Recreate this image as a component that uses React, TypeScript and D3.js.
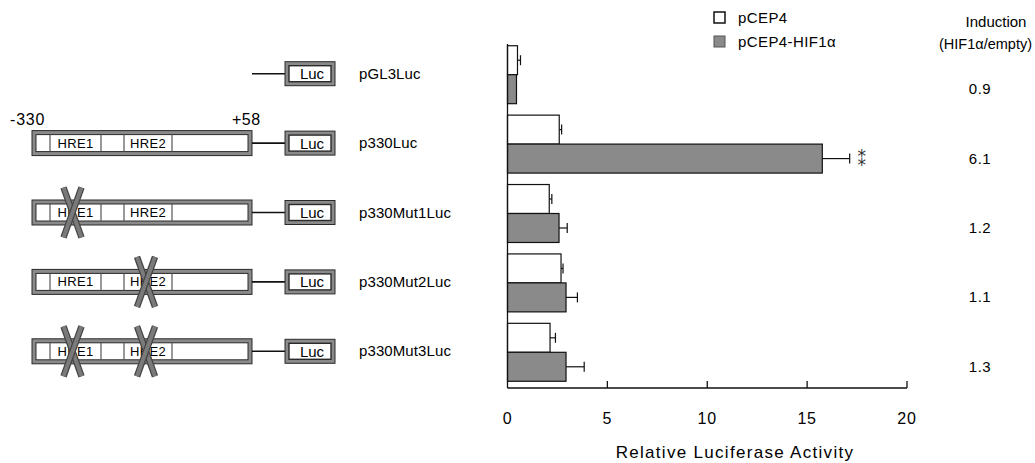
import React from "react";
import * as d3 from "d3";

const constructs = ["pGL3Luc", "p330Luc", "p330Mut1Luc", "p330Mut2Luc", "p330Mut3Luc"];
const pcep4 = [0.5, 2.59, 2.09, 2.68, 2.13];
const pcep4Err = [0.15, 0.12, 0.13, 0.1, 0.27];
const hif = [0.45, 15.76, 2.58, 2.93, 2.93];
const hifErr = [0, 1.37, 0.41, 0.57, 0.91];
const induction = ["0.9", "6.1", "1.2", "1.1", "1.3"];
const hasPromoter = [false, true, true, true, true];
const mutHRE1 = [false, false, true, false, true];
const mutHRE2 = [false, false, false, true, true];
const xTicks = [0, 5, 10, 15, 20];
const seriesKeys = ["pCEP4", "pCEP4-HIF1α"];
const significant = [false, true, false, false, false];

const FONT = "'Liberation Sans', Arial, Helvetica, sans-serif";
const GRAY = "#8a8a8a";
const DARK = "#2a2a2a";

export default function App() {
  const W = 1035, H = 463;
  const x = d3.scaleLinear().domain([0, 20]).range([507.5, 907]);
  const y = d3.scaleBand<string>().domain(constructs).range([40, 387]).paddingInner(0.165).paddingOuter(0.0825);
  const yInner = d3.scaleBand<string>().domain(seriesKeys).range([0, y.bandwidth()]);
  const bh = yInner.bandwidth();
  const axisY = 388;

  const Cross = ({ cx, cy }: { cx: number; cy: number }) => (
    <g>
      {[[-9, -25, 9, 25], [9, -25, -9, 25]].map((p, i) => (
        <g key={i}>
          <line x1={cx + p[0]} y1={cy + p[1]} x2={cx + p[2]} y2={cy + p[3]} stroke="#444" strokeWidth={6.5} />
          <line x1={cx + p[0]} y1={cy + p[1]} x2={cx + p[2]} y2={cy + p[3]} stroke="#7a7a7a" strokeWidth={4} />
        </g>
      ))}
    </g>
  );

  const Luc = ({ cy }: { cy: number }) => (
    <g>
      <rect x={285} y={cy - 12} width={50} height={24} fill={GRAY} stroke={DARK} strokeWidth={1} />
      <rect x={289} y={cy - 8} width={42} height={16} fill="#fff" stroke={DARK} strokeWidth={1.4} />
      <text x={312} y={cy + 5.5} textAnchor="middle" fontSize={15} fontFamily={FONT}>Luc</text>
    </g>
  );

  return (
    <svg width={W} height={H} style={{ display: "block", position: "absolute", left: 0, top: 0, background: "#fff" }}>
      {/* diagrams */}
      {constructs.map((c, i) => {
        const cy = (y(c) as number) + y.bandwidth() / 2 - 1;
        return (
          <g key={c}>
            {hasPromoter[i] && (
              <g>
                <rect x={32} y={cy - 12.5} width={220} height={25} fill={GRAY} stroke={DARK} strokeWidth={1} />
                <rect x={36} y={cy - 8.5} width={212} height={17} fill="#fff" stroke={DARK} strokeWidth={1} />
                {[50, 101, 124, 172].map((dx) => (
                  <line key={dx} x1={dx} x2={dx} y1={cy - 8.5} y2={cy + 8.5} stroke="#555" strokeWidth={1.2} />
                ))}
                <text x={75.5} y={cy + 4.5} textAnchor="middle" fontSize={13} fontFamily={FONT} letterSpacing={0.3}>HRE1</text>
                <text x={148} y={cy + 4.5} textAnchor="middle" fontSize={13} fontFamily={FONT} letterSpacing={0.3}>HRE2</text>
                {mutHRE1[i] && <Cross cx={72.5} cy={cy} />}
                {mutHRE2[i] && <Cross cx={146} cy={cy} />}
              </g>
            )}
            <line x1={252} x2={285} y1={cy} y2={cy} stroke="#111" strokeWidth={1.6} />
            <Luc cy={cy} />
            <text x={359} y={cy + 5} fontSize={15} fontFamily={FONT} letterSpacing={0.1}>{c}</text>
          </g>
        );
      })}
      <text x={10} y={125} fontSize={16} fontFamily={FONT} letterSpacing={0.8}>-330</text>
      <text x={232} y={125} fontSize={16} fontFamily={FONT} letterSpacing={0.5}>+58</text>

      {/* bars */}
      {constructs.map((c, i) => {
        const y0 = y(c) as number;
        const yw = y0 + (yInner("pCEP4") as number);
        const yg = y0 + (yInner("pCEP4-HIF1α") as number);
        return (
          <g key={c}>
            <rect x={x(0)} y={yw} width={x(pcep4[i]) - x(0)} height={bh} fill="#fff" stroke="#111" strokeWidth={1.2} />
            <rect x={x(0)} y={yg} width={x(hif[i]) - x(0)} height={bh} fill={GRAY} stroke="#111" strokeWidth={1.2} />
            {pcep4Err[i] > 0 && (
              <g stroke="#111" strokeWidth={1.2}>
                <line x1={x(pcep4[i])} x2={x(pcep4[i] + pcep4Err[i])} y1={yw + bh / 2} y2={yw + bh / 2} />
                <line x1={x(pcep4[i] + pcep4Err[i])} x2={x(pcep4[i] + pcep4Err[i])} y1={yw + bh / 2 - 5} y2={yw + bh / 2 + 5} />
              </g>
            )}
            {hifErr[i] > 0 && (
              <g stroke="#111" strokeWidth={1.2}>
                <line x1={x(hif[i])} x2={x(hif[i] + hifErr[i])} y1={yg + bh / 2} y2={yg + bh / 2} />
                <line x1={x(hif[i] + hifErr[i])} x2={x(hif[i] + hifErr[i])} y1={yg + bh / 2 - 5} y2={yg + bh / 2 + 5} />
              </g>
            )}
            {significant[i] && (
              <text x={x(hif[i] + hifErr[i]) + 12} y={yg + bh / 2 + 7} textAnchor="middle" fontSize={17} fontFamily="'DejaVu Sans', sans-serif" fill="#333">⁑</text>
            )}
            <text x={980} y={yg + bh / 2 + 5} textAnchor="middle" fontSize={15} fontFamily={FONT} letterSpacing={0.5}>{induction[i]}</text>
          </g>
        );
      })}

      {/* axes */}
      <line x1={x(0)} x2={x(0)} y1={44} y2={axisY} stroke="#111" strokeWidth={1.3} />
      <line x1={x(0)} x2={x(20)} y1={axisY} y2={axisY} stroke="#111" strokeWidth={1.3} />
      {xTicks.map((t) => (
        <g key={t}>
          {t > 0 && <line x1={x(t)} x2={x(t)} y1={axisY} y2={axisY - 7} stroke="#111" strokeWidth={1.3} />}
          <text x={x(t)} y={424} textAnchor="middle" fontSize={16} fontFamily={FONT} letterSpacing={0.8}>{t}</text>
        </g>
      ))}
      <text x={735} y={458} textAnchor="middle" fontSize={17} fontFamily={FONT} letterSpacing={1.3}>Relative Luciferase Activity</text>

      {/* legend */}
      <rect x={714} y={12} width={11} height={11} fill="#fff" stroke="#111" strokeWidth={1.5} />
      <rect x={714} y={36} width={11} height={11} fill={GRAY} stroke="#555" strokeWidth={1} />
      <text x={738} y={23} fontSize={15} fontFamily={FONT} letterSpacing={0.4}>pCEP4</text>
      <text x={738} y={47} fontSize={15} fontFamily={FONT} letterSpacing={0.4}>pCEP4-HIF1α</text>
      <text x={996} y={27} textAnchor="middle" fontSize={15} fontFamily={FONT}>Induction</text>
      <text x={1032} y={49} textAnchor="end" fontSize={14.5} fontFamily={FONT}>(HIF1α/empty)</text>
    </svg>
  );
}
